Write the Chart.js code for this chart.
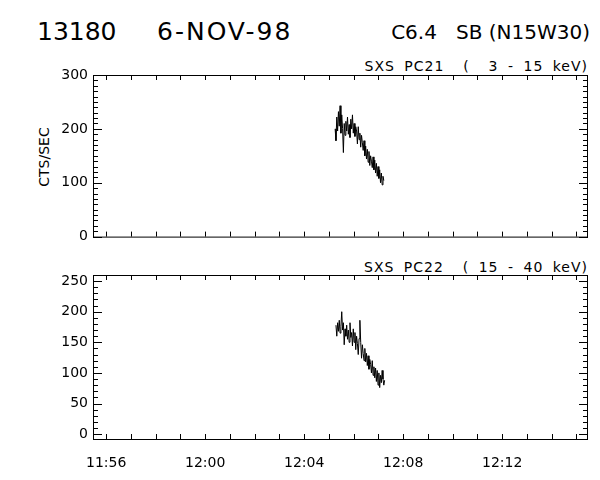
<!DOCTYPE html>
<html>
<head>
<meta charset="utf-8">
<script src="https://cdn.jsdelivr.net/npm/chart.js@4.4.0/dist/chart.umd.min.js"></script>
<style>
body{margin:0;background:#fff;}
#wrap{position:relative;width:600px;height:480px;font-family:"DejaVu Sans",sans-serif;color:#000;overflow:hidden;}
.t{position:absolute;white-space:pre;line-height:1;}
.sub{font-size:14px;letter-spacing:1px;word-spacing:4px;}
canvas{position:absolute;left:0;}
</style>
</head>
<body>
<div id="wrap">
  <div class="t" style="left:37px;top:19px;font-size:25px">13180</div>
  <div class="t" style="left:157px;top:19px;font-size:25px;letter-spacing:2px">6-NOV-98</div>
  <div class="t" style="right:10px;top:22px;font-size:20px">C6.4   SB (N15W30)</div>
  <div class="t sub" style="right:12px;top:59px">SXS PC21  (  3 - 15 keV)</div>
  <div class="t sub" style="right:12px;top:260px">SXS PC22  ( 15 - 40 keV)</div>
  <div class="t" style="left:44px;top:157px;font-size:14px;transform:translate(-50%,-50%) rotate(-90deg)">CTS/SEC</div>
  <canvas id="c1" width="600" height="250" style="top:0"></canvas>
  <canvas id="c2" width="600" height="230" style="top:250px"></canvas>
</div>
<script>
// time axis in seconds after 11:56:00
var tickSecs = [0, 240, 480, 720, 960];
var tickLabels = ['11:56', '12:00', '12:04', '12:08', '12:12'];
var xMin = -32, xMax = 1168;

// samples every 2 s
var cadence = 2;
var start21 = 555;   // 12:05:15
var start22 = 557;
var pc21 = [200,178,222,196,232,205,243,192,226,201,
            156,210,188,214,196,222,190,208,184,218,
            200,226,192,210,186,204,196,172,204,180,
            192,166,188,174,160,178,150,168,144,162,
            138,158,132,150,140,128,148,124,142,118,
            136,112,130,108,124,100,118,96,112,104];
var pc22 = [178,160,182,168,186,165,176,200,170,182,
            146,172,160,178,155,170,150,182,158,166,
            144,172,150,166,138,160,148,130,156,186,
            150,124,146,132,120,140,118,132,112,128,
            106,122,114,100,120,96,110,92,108,86,
            104,80,100,76,96,84,104,90,80,88];

function points(start, vals){
  var out = [];
  for (var i in vals) out.push({x: start + i * cadence, y: vals[i]});
  return out;
}

// box frame with inward ticks on all four sides
var frameTicks = {
  id: 'frameTicks',
  afterDraw: function(chart){
    var ctx = chart.ctx, a = chart.chartArea, sx = chart.scales.x, sy = chart.scales.y;
    ctx.save();
    ctx.strokeStyle = '#000';
    ctx.lineWidth = 1;
    ctx.strokeRect(a.left + 0.5, a.top + 0.5, a.right - a.left - 1, a.bottom - a.top);
    ctx.beginPath();
    sy.ticks.forEach(function(t){
      var py = Math.round(sy.getPixelForValue(t.value)) + 0.5;
      var len = t.label ? 9 : 5;
      ctx.moveTo(a.left, py); ctx.lineTo(a.left + len, py);
      ctx.moveTo(a.right, py); ctx.lineTo(a.right - len, py);
    });
    sx.ticks.forEach(function(t){
      var px = Math.round(sx.getPixelForValue(t.value)) + 0.5;
      ctx.moveTo(px, a.bottom); ctx.lineTo(px, a.bottom - 5);
      ctx.moveTo(px, a.top); ctx.lineTo(px, a.top + 5);
    });
    ctx.stroke();
    ctx.restore();
  }
};

function makeChart(id, data, yMin, yMax, yTop, yMajor, pad, showX){
  return new Chart(document.getElementById(id), {
    type: 'line',
    data: {datasets: [{data: data, borderColor: '#000', borderWidth: 1, pointRadius: 0, tension: 0}]},
    options: {
      responsive: false,
      animation: false,
      layout: {padding: pad},
      plugins: {legend: {display: false}, tooltip: {enabled: false}},
      scales: {
        x: {
          type: 'linear', min: xMin, max: xMax,
          grid: {display: false, drawTicks: false}, border: {display: false},
          afterBuildTicks: function(s){
            var t = [];
            for (var v = 0; v < xMax; v += 60) t.push({value: v});
            s.ticks = t;
          },
          afterFit: function(s){ s.height = showX ? 41 : 0; },
          ticks: {
            display: showX, autoSkip: false, source: 'data', maxRotation: 0, padding: 16,
            color: '#000', font: {family: 'DejaVu Sans', size: 14},
            callback: function(v){
              var k = tickSecs.indexOf(v);
              return k >= 0 ? tickLabels[k] : '';
            }
          }
        },
        y: {
          min: yMin, max: yMax,
          grid: {display: false, drawTicks: false}, border: {display: false},
          afterBuildTicks: function(s){
            var t = [];
            for (var v = 0; v <= yTop; v += 10) t.push({value: v});
            s.ticks = t;
          },
          afterFit: function(s){ s.width = 93; },
          ticks: {
            autoSkip: false, source: 'data', padding: 5,
            color: '#000', font: {family: 'DejaVu Sans', size: 14},
            callback: function(v){ return v % yMajor === 0 ? String(v) : ''; }
          }
        }
      }
    },
    plugins: [frameTicks]
  });
}

makeChart('c1', points(start21, pc21), 0, 300, 300, 100, {left: 0, right: 12, top: 75, bottom: 11}, false);
makeChart('c2', points(start22, pc22), -8, 260, 250, 50, {left: 0, right: 12, top: 25, bottom: 0}, true);
</script>
</body>
</html>
